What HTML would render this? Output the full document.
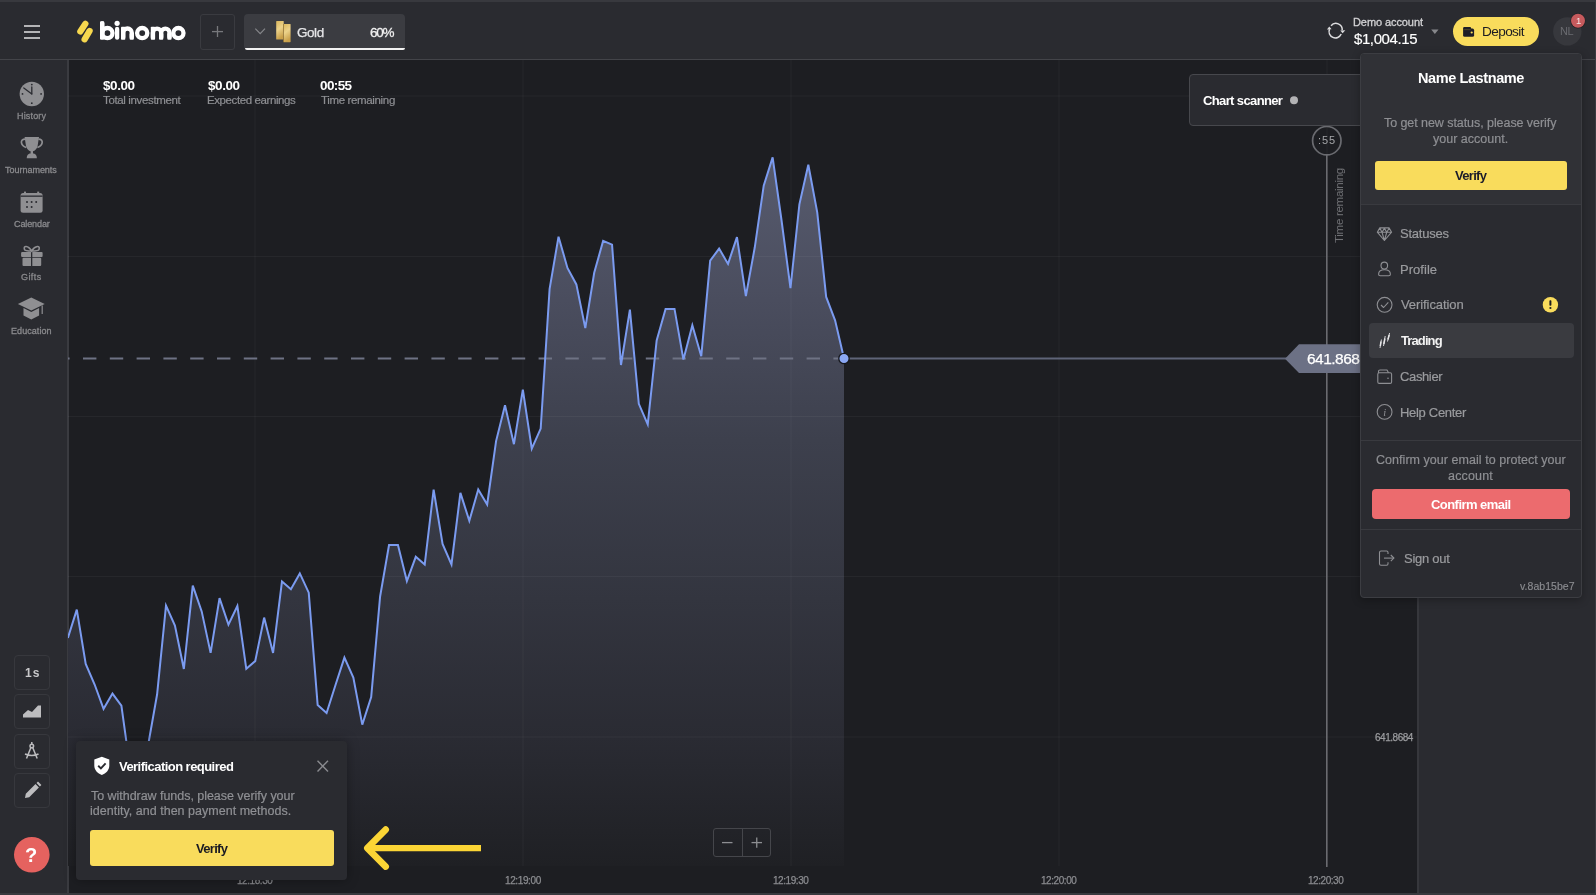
<!DOCTYPE html>
<html><head><meta charset="utf-8"><style>
html,body{margin:0;padding:0;}
body{width:1596px;height:895px;overflow:hidden;position:relative;background:#1d1e22;font-family:"Liberation Sans",sans-serif;}
.t{position:absolute;line-height:1;white-space:nowrap;will-change:transform;}
.r{position:absolute;}
.abs{position:absolute;overflow:visible;}
</style></head><body>
<div class="r" style="left:0.00px;top:0.00px;width:1596.00px;height:895.00px;background:#1d1e22;"></div>
<div class="r" style="left:0.00px;top:0.00px;width:1596.00px;height:59.00px;background:#2a2b30;"></div>
<div class="r" style="left:0.00px;top:0.00px;width:1596.00px;height:2.00px;background:#38393e;"></div>
<div class="r" style="left:0.00px;top:59.00px;width:1596.00px;height:1.00px;background:#434449;"></div>
<div class="r" style="left:0.00px;top:60.00px;width:67.00px;height:835.00px;background:#2a2b30;"></div>
<div class="r" style="left:67.00px;top:60.00px;width:2.00px;height:835.00px;background:#3a3b40;"></div>
<div class="r" style="left:1418.00px;top:60.00px;width:178.00px;height:835.00px;background:#2a2b30;"></div>
<div class="r" style="left:1417.00px;top:60.00px;width:2.00px;height:835.00px;background:#36373c;"></div>
<div class="r" style="left:1595.00px;top:0.00px;width:1.00px;height:895.00px;background:#3a3b40;"></div>
<div class="r" style="left:0.00px;top:893.00px;width:1596.00px;height:2.00px;background:#38393e;"></div>
<svg class="abs" style="left:0;top:0" width="1596" height="895" viewBox="0 0 1596 895">
<defs>
<linearGradient id="fg" x1="0" y1="150" x2="0" y2="866" gradientUnits="userSpaceOnUse">
<stop offset="0" stop-color="#585c6f"/>
<stop offset="0.21" stop-color="#4a4d5e"/>
<stop offset="0.405" stop-color="#3d404d"/>
<stop offset="0.628" stop-color="#33353f"/>
<stop offset="0.82" stop-color="#2a2b33"/>
<stop offset="1" stop-color="#1f2024"/>
</linearGradient>
<clipPath id="cc"><rect x="68" y="60" width="1349" height="833"/></clipPath>
</defs>
<g clip-path="url(#cc)">
<path d="M67.87,638.00 L76.79,609.60 L85.72,664.00 L94.64,684.50 L103.56,708.80 L112.48,693.60 L121.40,705.60 L130.32,770.00 L139.24,765.00 L148.16,745.00 L157.08,694.50 L166.00,605.70 L174.93,625.60 L183.85,669.00 L192.77,585.60 L201.69,611.40 L210.61,652.90 L219.53,598.10 L228.45,624.60 L237.37,606.00 L246.29,668.80 L255.21,661.10 L264.13,617.60 L273.06,652.90 L281.98,581.40 L290.90,589.30 L299.82,573.40 L308.74,592.70 L317.66,705.00 L326.58,713.00 L335.50,685.00 L344.42,657.60 L353.35,677.50 L362.27,724.60 L371.19,697.00 L380.11,596.50 L389.03,545.00 L397.95,545.00 L406.87,581.00 L415.79,556.80 L424.71,564.60 L433.63,489.60 L442.56,544.00 L451.48,564.40 L460.40,492.90 L469.32,520.80 L478.24,489.60 L487.16,504.50 L496.08,441.10 L505.00,405.30 L513.92,444.20 L522.84,389.60 L531.77,448.70 L540.69,428.60 L549.61,288.80 L558.53,236.70 L567.45,267.90 L576.37,284.40 L585.29,328.10 L594.21,272.80 L603.13,240.90 L612.05,244.60 L620.98,365.00 L629.90,309.70 L638.82,403.80 L647.74,424.40 L656.66,340.40 L665.58,308.90 L674.50,308.90 L683.42,359.60 L692.34,325.20 L701.26,356.20 L710.18,260.70 L719.11,248.60 L728.03,263.90 L736.95,237.10 L745.87,296.10 L754.79,247.30 L763.71,185.60 L772.63,157.40 L781.55,220.50 L790.47,288.10 L799.39,204.40 L808.32,164.70 L817.24,212.40 L826.16,296.90 L835.08,320.30 L844.00,358.60 L844,866 L67.87,866 Z" fill="url(#fg)"/>
<line x1="68" y1="96.0" x2="1417" y2="96.0" stroke="rgba(255,255,255,0.045)" stroke-width="1"/><line x1="68" y1="256.5" x2="1417" y2="256.5" stroke="rgba(255,255,255,0.045)" stroke-width="1"/><line x1="68" y1="416.5" x2="1417" y2="416.5" stroke="rgba(255,255,255,0.045)" stroke-width="1"/><line x1="68" y1="576.5" x2="1417" y2="576.5" stroke="rgba(255,255,255,0.045)" stroke-width="1"/><line x1="68" y1="737.0" x2="1417" y2="737.0" stroke="rgba(255,255,255,0.045)" stroke-width="1"/><line x1="255.0" y1="60" x2="255.0" y2="866" stroke="rgba(255,255,255,0.045)" stroke-width="1"/><line x1="523.0" y1="60" x2="523.0" y2="866" stroke="rgba(255,255,255,0.045)" stroke-width="1"/><line x1="791.0" y1="60" x2="791.0" y2="866" stroke="rgba(255,255,255,0.045)" stroke-width="1"/><line x1="1059.0" y1="60" x2="1059.0" y2="866" stroke="rgba(255,255,255,0.045)" stroke-width="1"/><line x1="1327.0" y1="60" x2="1327.0" y2="866" stroke="rgba(255,255,255,0.045)" stroke-width="1"/>
<line x1="56.2" y1="358.5" x2="844" y2="358.5" stroke="#6e7284" stroke-width="2" stroke-dasharray="13.4 13.4"/>
<line x1="844" y1="358.5" x2="1290" y2="358.5" stroke="#5f6478" stroke-width="2"/>
<path d="M67.87,638.00 L76.79,609.60 L85.72,664.00 L94.64,684.50 L103.56,708.80 L112.48,693.60 L121.40,705.60 L130.32,770.00 L139.24,765.00 L148.16,745.00 L157.08,694.50 L166.00,605.70 L174.93,625.60 L183.85,669.00 L192.77,585.60 L201.69,611.40 L210.61,652.90 L219.53,598.10 L228.45,624.60 L237.37,606.00 L246.29,668.80 L255.21,661.10 L264.13,617.60 L273.06,652.90 L281.98,581.40 L290.90,589.30 L299.82,573.40 L308.74,592.70 L317.66,705.00 L326.58,713.00 L335.50,685.00 L344.42,657.60 L353.35,677.50 L362.27,724.60 L371.19,697.00 L380.11,596.50 L389.03,545.00 L397.95,545.00 L406.87,581.00 L415.79,556.80 L424.71,564.60 L433.63,489.60 L442.56,544.00 L451.48,564.40 L460.40,492.90 L469.32,520.80 L478.24,489.60 L487.16,504.50 L496.08,441.10 L505.00,405.30 L513.92,444.20 L522.84,389.60 L531.77,448.70 L540.69,428.60 L549.61,288.80 L558.53,236.70 L567.45,267.90 L576.37,284.40 L585.29,328.10 L594.21,272.80 L603.13,240.90 L612.05,244.60 L620.98,365.00 L629.90,309.70 L638.82,403.80 L647.74,424.40 L656.66,340.40 L665.58,308.90 L674.50,308.90 L683.42,359.60 L692.34,325.20 L701.26,356.20 L710.18,260.70 L719.11,248.60 L728.03,263.90 L736.95,237.10 L745.87,296.10 L754.79,247.30 L763.71,185.60 L772.63,157.40 L781.55,220.50 L790.47,288.10 L799.39,204.40 L808.32,164.70 L817.24,212.40 L826.16,296.90 L835.08,320.30 L844.00,358.60" fill="none" stroke="#7b9bf0" stroke-width="2" stroke-linejoin="miter"/>
<circle cx="844" cy="358.5" r="5.2" fill="#8aa7f3" stroke="#15161a" stroke-width="1.3"/>
<line x1="1326.8" y1="155" x2="1326.8" y2="867" stroke="#6a6b70" stroke-width="1.6"/>
<circle cx="1326.8" cy="140.7" r="14.2" fill="none" stroke="#6a6b70" stroke-width="1.7"/>
<path d="M1285,358.7 L1299,344.2 L1362,344.2 L1362,373 L1299,373 Z" fill="#6c7185"/>
</g>
</svg>
<div class="r" style="left:24.00px;top:24.60px;width:16.00px;height:2.00px;background:#b4b4b6;"></div>
<div class="r" style="left:24.00px;top:30.80px;width:16.00px;height:2.00px;background:#b4b4b6;"></div>
<div class="r" style="left:24.00px;top:37.00px;width:16.00px;height:2.00px;background:#b4b4b6;"></div>
<svg class="abs" style="left:0;top:0" width="200" height="60" viewBox="0 0 200 60">
<g stroke="#f7d84e" stroke-width="6.2" stroke-linecap="round"><line x1="85.4" y1="23.8" x2="80.3" y2="31.4"/><line x1="89.6" y1="30.9" x2="84.6" y2="39.3"/></g>
<g stroke="#fff" stroke-width="4.3" stroke-linecap="round" fill="none">
<line x1="102.2" y1="23.5" x2="102.2" y2="33"/>
<circle cx="107.4" cy="33.1" r="5.1"/>
<circle cx="117.1" cy="23.3" r="2.6" fill="#fff" stroke="none"/>
<line x1="117.1" y1="28.9" x2="117.1" y2="37.7"/>
<path d="M123.2,37.7 V32.8 A4.3,4.3 0 0 1 131.8,32.8 V37.7" stroke-linecap="butt"/>
<circle cx="142.2" cy="33.1" r="5.1"/>
<path d="M152.9,37.7 V32.8 A4.15,4.15 0 0 1 161.2,32.8 V37.7 M161.2,32.8 A4.15,4.15 0 0 1 169.5,32.8 V37.7" stroke-linecap="butt"/>
<circle cx="178.4" cy="33.1" r="5.1"/>
</g>
<g fill="#fff"><rect x="121" y="26.7" width="4.3" height="13.1" rx="0.8"/><rect x="129.6" y="33" width="4.3" height="6.8" rx="1"/><rect x="150.8" y="26.7" width="4.3" height="13.1" rx="0.8"/><rect x="159" y="33" width="4.3" height="6.8" rx="1"/><rect x="167.3" y="33" width="4.3" height="6.8" rx="1"/><rect x="100" y="21.3" width="4.3" height="18.5" rx="1.2"/></g>
</svg>
<div class="r" style="left:200.00px;top:14.00px;width:35.00px;height:35.50px;background:transparent;border:1px solid #3a3b40;border-radius:3px;box-sizing:border-box;"></div>
<svg class="abs" style="left:200px;top:14px" width="35" height="35"><g stroke="#77787c" stroke-width="1.3"><line x1="12" y1="17.6" x2="23" y2="17.6"/><line x1="17.5" y1="12" x2="17.5" y2="23"/></g></svg>
<div class="r" style="left:244.00px;top:14.00px;width:161.30px;height:35.70px;background:#3b3c41;border-radius:4px;"></div>
<div class="r" style="left:245.00px;top:47.60px;width:159.50px;height:2.40px;background:#f2f2f2;border-radius:0 0 3px 3px;"></div>
<svg class="abs" style="left:244px;top:14px" width="60" height="36">
<polyline points="11.3,14.7 16.2,19.7 21,14.7" fill="none" stroke="#85868a" stroke-width="1.2"/>
<defs><linearGradient id="gb" x1="0" y1="0" x2="0.3" y2="1"><stop offset="0" stop-color="#d9b65c"/><stop offset="0.5" stop-color="#ecd28a"/><stop offset="1" stop-color="#c9a04a"/></linearGradient></defs>
<rect x="32.2" y="6.9" width="7.5" height="18.6" fill="url(#gb)" rx="0.6"/>
<rect x="39.3" y="10" width="7.3" height="18.2" fill="url(#gb)" rx="0.6"/>
<rect x="39.1" y="10" width="0.8" height="18.2" fill="#7a5a22" opacity="0.7"/>
</svg>
<div class="t" style="left:297.32px;top:25.87px;font-size:13.50px;letter-spacing:-0.456px;color:#e6e6e8;-webkit-text-stroke:0.25px #e6e6e8;">Gold</div>
<div class="t" style="left:369.51px;top:25.87px;font-size:13.50px;letter-spacing:-1.227px;color:#f0f0f0;-webkit-text-stroke:0.30px #f0f0f0;">60%</div>
<svg class="abs" style="left:1320px;top:12px" width="30" height="30">
<g fill="none" stroke="#dcdcde" stroke-width="1.5">
<path d="M11.05,13.76 A6.3,6.3 0 0 1 22.2,18.3"/>
<path d="M21.19,22.02 A6.3,6.3 0 0 1 9.5,17.1"/>
</g>
<path d="M20.3,18.5 L25.3,18.2 L22.6,21.3 Z" fill="#dcdcde"/>
<path d="M6.9,17.5 L11.6,17.2 L9.3,14.6 Z" fill="#dcdcde"/>
</svg>
<div class="t" style="left:1352.90px;top:17.19px;font-size:11.00px;letter-spacing:-0.086px;color:#d2d2d4;-webkit-text-stroke:0.30px #d2d2d4;">Demo account</div>
<div class="t" style="left:1353.84px;top:30.70px;font-size:15.00px;letter-spacing:-0.405px;color:#ffffff;-webkit-text-stroke:0.15px #ffffff;">$1,004.15</div>
<svg class="abs" style="left:1430px;top:28px" width="10" height="8"><path d="M1.2,1.5 L8.5,1.5 L4.85,6 Z" fill="#86878b"/></svg>
<div class="r" style="left:1453.00px;top:17.20px;width:86.00px;height:28.70px;background:#f9dc5c;border-radius:15px;"></div>
<svg class="abs" style="left:1460px;top:24px" width="18" height="16">
<rect x="3.1" y="3.1" width="8" height="3" rx="1.1" fill="#1e1e26"/>
<rect x="3.1" y="4.6" width="11" height="8.2" rx="1.6" fill="#1e1e26"/>
<rect x="4.2" y="5.5" width="6.5" height="0.6" fill="#6b5e2a"/>
<circle cx="11.7" cy="8.5" r="1.1" fill="#f9dc5c"/>
</svg>
<div class="t" style="left:1481.88px;top:24.99px;font-size:13.60px;letter-spacing:-0.600px;color:#1c1c22;">Deposit</div>
<svg class="abs" style="left:1553px;top:17px" width="30" height="30"><circle cx="14.3" cy="14.4" r="14.2" fill="#37383d"/></svg>
<div class="t" style="left:1560.10px;top:25.69px;font-size:11.00px;letter-spacing:-0.394px;color:#6a6b70;">NL</div>
<svg class="abs" style="left:1568px;top:12px" width="20" height="18"><circle cx="10" cy="8.8" r="7.6" fill="#1f2024"/><circle cx="10" cy="8.8" r="7" fill="#c65a5d"/></svg>
<div class="t" style="left:1575.58px;top:16.46px;font-size:9.50px;letter-spacing:0.000px;color:#f4e6e6;">1</div>
<div class="t" style="left:103.02px;top:78.77px;font-size:13.50px;letter-spacing:-0.413px;color:#fff;font-weight:700;">$0.00</div>
<div class="t" style="left:102.94px;top:94.77px;font-size:11.50px;letter-spacing:-0.355px;color:#8e8f93;-webkit-text-stroke:0.20px #8e8f93;">Total investment</div>
<div class="t" style="left:208.12px;top:78.77px;font-size:13.50px;letter-spacing:-0.413px;color:#fff;font-weight:700;">$0.00</div>
<div class="t" style="left:207.36px;top:94.77px;font-size:11.50px;letter-spacing:-0.406px;color:#8e8f93;-webkit-text-stroke:0.20px #8e8f93;">Expected earnings</div>
<div class="t" style="left:320.27px;top:78.77px;font-size:13.50px;letter-spacing:-0.605px;color:#fff;font-weight:700;">00:55</div>
<div class="t" style="left:321.04px;top:94.77px;font-size:11.50px;letter-spacing:-0.350px;color:#8e8f93;-webkit-text-stroke:0.20px #8e8f93;">Time remaining</div>
<svg class="abs" style="left:0;top:60px" width="68" height="290">
<circle cx="31.8" cy="34" r="12.2" fill="#8f8f92"/>
<g fill="#2a2b30"><circle cx="31.8" cy="24.6" r="0.9"/><circle cx="31.8" cy="43.2" r="0.9"/><circle cx="22.5" cy="33.9" r="0.9"/><circle cx="41.1" cy="33.9" r="0.9"/></g>
<g stroke="#2a2b30" stroke-width="1.3" stroke-linecap="round"><line x1="31.8" y1="33.9" x2="31.8" y2="27"/><line x1="31.8" y1="33.9" x2="23.8" y2="28"/></g>
<path d="M24.6,77 H39 L37.6,86 C37,89 34.8,90.8 33,91.2 V93.5 H30.6 V91.2 C28.8,90.8 26.6,89 26,86 Z M26.7,98.2 C26.7,95 28.5,93.2 31.8,93.2 C35.1,93.2 36.9,95 36.9,98.2 Z" fill="#8f8f92"/>
<path d="M25.2,79.2 C19.5,79.2 20.5,85.5 26.2,87.5 M38.4,79.2 C44.1,79.2 43.1,85.5 37.4,87.5" fill="none" stroke="#8f8f92" stroke-width="1.7"/>
<rect x="20.6" y="133" width="22" height="19.7" rx="2.5" fill="#8f8f92"/>
<rect x="24" y="131.6" width="2" height="3" fill="#8f8f92"/><rect x="37.2" y="131.6" width="2" height="3" fill="#8f8f92"/>
<rect x="20.6" y="135.5" width="22" height="1.3" fill="#2a2b30"/>
<g fill="#2a2b30"><circle cx="27" cy="142" r="1"/><circle cx="31.6" cy="142" r="1"/><circle cx="36.2" cy="142" r="1"/><circle cx="27" cy="147" r="1"/><circle cx="31.6" cy="147" r="1"/></g>
<rect x="21.1" y="192" width="21.5" height="5" rx="1" fill="#8f8f92"/>
<rect x="22.5" y="197.8" width="18.7" height="8.1" rx="1" fill="#8f8f92"/>
<rect x="31" y="191" width="1.3" height="15" fill="#2a2b30"/>
<path d="M31.6,191 C28,185 23,185.5 24.5,189.5 C25,191 28,191 31.6,191 C35,191 38.5,191 39,189.5 C40.5,185.5 35.5,185 31.6,191 Z" fill="none" stroke="#8f8f92" stroke-width="1.6"/>
<path d="M17.9,244 L31.3,237.4 L44.7,244 L31.3,250.6 Z" fill="#8f8f92"/>
<path d="M23.5,248 V255.5 L31.3,259.6 L39.1,255.5 V248 L31.3,252 Z" fill="#8f8f92"/>
<line x1="42.2" y1="245.5" x2="42.2" y2="254" stroke="#8f8f92" stroke-width="1.2"/>
</svg>
<div class="t" style="left:16.96px;top:112.28px;font-size:9.00px;letter-spacing:0.159px;color:#8a8a8d;-webkit-text-stroke:0.30px #8a8a8d;">History</div>
<div class="t" style="left:5.40px;top:166.38px;font-size:9.00px;letter-spacing:-0.020px;color:#8a8a8d;-webkit-text-stroke:0.30px #8a8a8d;">Tournaments</div>
<div class="t" style="left:13.54px;top:219.78px;font-size:9.00px;letter-spacing:-0.102px;color:#8a8a8d;-webkit-text-stroke:0.30px #8a8a8d;">Calendar</div>
<div class="t" style="left:21.35px;top:273.08px;font-size:9.00px;letter-spacing:0.419px;color:#8a8a8d;-webkit-text-stroke:0.30px #8a8a8d;">Gifts</div>
<div class="t" style="left:11.46px;top:326.78px;font-size:9.00px;letter-spacing:0.062px;color:#8a8a8d;-webkit-text-stroke:0.30px #8a8a8d;">Education</div>
<div class="r" style="left:14.00px;top:654.80px;width:35.60px;height:35.00px;background:transparent;border:1px solid #37383d;border-radius:4px;box-sizing:border-box;"></div>
<div class="r" style="left:14.00px;top:694.20px;width:35.60px;height:35.00px;background:transparent;border:1px solid #37383d;border-radius:4px;box-sizing:border-box;"></div>
<div class="r" style="left:14.00px;top:733.60px;width:35.60px;height:35.00px;background:transparent;border:1px solid #37383d;border-radius:4px;box-sizing:border-box;"></div>
<div class="r" style="left:14.00px;top:773.30px;width:35.60px;height:35.00px;background:transparent;border:1px solid #37383d;border-radius:4px;box-sizing:border-box;"></div>
<div class="t" style="left:24.54px;top:666.64px;font-size:12.00px;letter-spacing:1.000px;color:#c8c8ca;font-weight:700;">1s</div>
<svg class="abs" style="left:14px;top:694px" width="36" height="36">
<path d="M9,23.5 L9,20.5 L14,16 L18,18 L24,11.5 L27,11.5 L27,23.5 Z" fill="#bdbdbf"/>
</svg>
<svg class="abs" style="left:14px;top:733.6px" width="36" height="36">
<g fill="none" stroke="#bdbdbf" stroke-width="1.5"><circle cx="17.8" cy="12" r="1.8"/><line x1="16.8" y1="13.8" x2="12.5" y2="24.5"/><line x1="18.8" y1="13.8" x2="23.2" y2="24.5"/><path d="M11,20 Q17.8,23 24.5,20"/><line x1="17.8" y1="8" x2="17.8" y2="10"/></g>
</svg>
<svg class="abs" style="left:14px;top:773.3px" width="36" height="36">
<path d="M11,25 L11.8,20.8 L21.5,11.1 L24.9,14.5 L15.2,24.2 Z M22.5,10.1 L24,8.6 L27.4,12 L25.9,13.5 Z" fill="#bdbdbf"/>
</svg>
<svg class="abs" style="left:13px;top:836px" width="38" height="38"><circle cx="18.8" cy="18.8" r="17.8" fill="#e5625f"/></svg>
<div class="t" style="left:25.28px;top:845.07px;font-size:20.00px;letter-spacing:0.000px;color:#fff;font-weight:700;">?</div>
<div class="t" style="left:504.84px;top:875.64px;font-size:10.00px;letter-spacing:-0.382px;color:#8b8c90;-webkit-text-stroke:0.25px #8b8c90;">12:19:00</div>
<div class="t" style="left:772.94px;top:875.64px;font-size:10.00px;letter-spacing:-0.439px;color:#8b8c90;-webkit-text-stroke:0.25px #8b8c90;">12:19:30</div>
<div class="t" style="left:1040.74px;top:875.64px;font-size:10.00px;letter-spacing:-0.439px;color:#8b8c90;-webkit-text-stroke:0.25px #8b8c90;">12:20:00</div>
<div class="t" style="left:1308.44px;top:875.64px;font-size:10.00px;letter-spacing:-0.453px;color:#8b8c90;-webkit-text-stroke:0.25px #8b8c90;">12:20:30</div>
<div class="t" style="left:237.24px;top:875.64px;font-size:10.00px;letter-spacing:-0.439px;color:#8b8c90;-webkit-text-stroke:0.25px #8b8c90;">12:18:30</div>
<div class="t" style="left:1374.59px;top:732.54px;font-size:10.00px;letter-spacing:-0.473px;color:#9b9c9f;-webkit-text-stroke:0.25px #9b9c9f;">641.8684</div>
<div class="t" style="left:1307.11px;top:350.88px;font-size:15.50px;letter-spacing:-0.528px;color:#fff;-webkit-text-stroke:0.25px #fff;">641.868</div>
<div class="t" style="left:1318.00px;top:135.39px;font-size:11.00px;letter-spacing:0.887px;color:#a5a6a9;">:55</div>
<div class="t" style="left:1334.18px;top:242.66px;font-size:11.50px;letter-spacing:-0.281px;color:#707175;transform:rotate(-90deg);transform-origin:0 0;">Time remaining</div>
<div class="r" style="left:1189.00px;top:74.30px;width:231.00px;height:51.70px;background:#2a2b30;border:1.3px solid #47484d;border-radius:4px;box-sizing:border-box;"></div>
<div class="t" style="left:1203.27px;top:94.00px;font-size:13.00px;letter-spacing:-0.624px;color:#fff;font-weight:700;">Chart scanner</div>
<svg class="abs" style="left:1288px;top:94px" width="12" height="12"><circle cx="6" cy="6.3" r="4" fill="#b3b3b5"/></svg>
<div class="r" style="left:712.60px;top:828.00px;width:58.40px;height:29.20px;background:transparent;border:1px solid #45464b;border-radius:3px;box-sizing:border-box;"></div>
<div class="r" style="left:741.50px;top:828.00px;width:1.10px;height:29.20px;background:#45464b;"></div>
<svg class="abs" style="left:712px;top:828px" width="60" height="30"><g stroke="#8d8e92" stroke-width="1.3"><line x1="10" y1="14.6" x2="20.5" y2="14.6"/><line x1="39.5" y1="14.6" x2="50" y2="14.6"/><line x1="44.75" y1="9.4" x2="44.75" y2="19.8"/></g></svg>
<svg class="abs" style="left:355px;top:820px" width="140" height="60"><g fill="none" stroke="#fbd535" stroke-width="6.6" stroke-linejoin="round"><line x1="14" y1="28.1" x2="126" y2="28.1" stroke-width="6.4"/><polyline points="30.7,9.6 12.3,28.1 30.7,46.6" stroke-linecap="round"/></g></svg>
<div class="r" style="left:76.40px;top:741.00px;width:270.60px;height:139.00px;background:#2a2b30;border-radius:4px;box-shadow:0 0 12px rgba(0,0,0,0.35);"></div>
<svg class="abs" style="left:90px;top:754px" width="24" height="24">
<path d="M11.8,2.7 L19.3,5.6 V11.5 C19.3,16 16,19.6 11.8,21 C7.6,19.6 4.3,16 4.3,11.5 V5.6 Z" fill="#fff"/>
<polyline points="8.2,11.8 10.9,14.4 15.6,9.3" fill="none" stroke="#2a2b30" stroke-width="1.9"/>
</svg>
<div class="t" style="left:119.21px;top:759.60px;font-size:13.00px;letter-spacing:-0.544px;color:#fff;font-weight:700;">Verification required</div>
<svg class="abs" style="left:312px;top:755px" width="22" height="22"><g stroke="#8a8b8f" stroke-width="1.4"><line x1="5.5" y1="5.8" x2="16" y2="16.5"/><line x1="16" y1="5.8" x2="5.5" y2="16.5"/></g></svg>
<div class="t" style="left:90.62px;top:789.62px;font-size:12.50px;letter-spacing:-0.038px;color:#8f9094;-webkit-text-stroke:0.20px #8f9094;">To withdraw funds, please verify your</div>
<div class="t" style="left:90.06px;top:805.32px;font-size:12.50px;letter-spacing:0.017px;color:#8f9094;-webkit-text-stroke:0.20px #8f9094;">identity, and then payment methods.</div>
<div class="r" style="left:90.30px;top:829.80px;width:243.60px;height:36.20px;background:#f9dc5c;border-radius:3px;"></div>
<div class="t" style="left:195.91px;top:841.60px;font-size:13.00px;letter-spacing:-0.694px;color:#1b1b22;font-weight:700;">Verify</div>
<div class="r" style="left:1360.40px;top:52.70px;width:221.30px;height:545.60px;background:#2a2b30;border:1px solid #3c3d42;border-radius:4px;box-sizing:border-box;box-shadow:0 2px 8px rgba(0,0,0,0.3);"></div>
<div class="r" style="left:1361.40px;top:53.70px;width:219.30px;height:150.10px;background:#303136;border-radius:3px 3px 0 0;"></div>
<div class="t" style="left:1417.53px;top:71.33px;font-size:14.50px;letter-spacing:-0.404px;color:#fff;font-weight:700;">Name Lastname</div>
<div class="t" style="left:1384.22px;top:116.62px;font-size:12.50px;letter-spacing:-0.064px;color:#8e8f93;-webkit-text-stroke:0.20px #8e8f93;">To get new status, please verify</div>
<div class="t" style="left:1433.47px;top:132.72px;font-size:12.50px;letter-spacing:0.011px;color:#8e8f93;-webkit-text-stroke:0.20px #8e8f93;">your account.</div>
<div class="r" style="left:1375.20px;top:160.90px;width:191.70px;height:28.90px;background:#f9dc5c;border-radius:3px;"></div>
<div class="t" style="left:1454.71px;top:169.20px;font-size:13.00px;letter-spacing:-0.694px;color:#1b1b2a;font-weight:700;">Verify</div>
<div class="r" style="left:1361.40px;top:203.80px;width:219.30px;height:1.00px;background:#393a3f;"></div>
<div class="t" style="left:1400.11px;top:227.40px;font-size:13.00px;letter-spacing:-0.218px;color:#9a9b9e;-webkit-text-stroke:0.20px #9a9b9e;">Statuses</div>
<div class="t" style="left:1399.63px;top:262.60px;font-size:13.00px;letter-spacing:0.033px;color:#9a9b9e;-webkit-text-stroke:0.20px #9a9b9e;">Profile</div>
<div class="t" style="left:1400.64px;top:298.40px;font-size:13.00px;letter-spacing:-0.082px;color:#9a9b9e;-webkit-text-stroke:0.20px #9a9b9e;">Verification</div>
<div class="r" style="left:1368.60px;top:322.70px;width:205.10px;height:35.20px;background:#3a3b40;border-radius:4px;"></div>
<div class="t" style="left:1400.55px;top:334.30px;font-size:13.00px;letter-spacing:-0.891px;color:#f2f2f2;font-weight:700;">Trading</div>
<div class="t" style="left:1400.04px;top:369.80px;font-size:13.00px;letter-spacing:-0.370px;color:#9a9b9e;-webkit-text-stroke:0.20px #9a9b9e;">Cashier</div>
<div class="t" style="left:1399.63px;top:406.00px;font-size:13.00px;letter-spacing:-0.308px;color:#9a9b9e;-webkit-text-stroke:0.20px #9a9b9e;">Help Center</div>
<svg class="abs" style="left:1370px;top:220px" width="30" height="210">
<g fill="none" stroke="#8e8f93" stroke-width="1.1" stroke-linejoin="round">
<path d="M9.8,7.9 L19.2,7.9 L21.6,12.2 L14.4,20.5 L7.3,12.2 Z M7.3,12.2 H21.6 M12,12.2 L14.4,8.4 L16.8,12.2 M12,12.2 L14.4,20.5 L16.8,12.2 M9.8,7.9 L12,12.2 M19.2,7.9 L16.8,12.2"/>
<ellipse cx="14.3" cy="45.6" rx="3.3" ry="3.5"/>
<path d="M8.6,54.2 C8.6,50.6 11,49.8 14.5,49.8 C18,49.8 20.4,50.6 20.4,54.2 C20.4,55.2 19.8,55.7 18.8,55.7 H10.2 C9.2,55.7 8.6,55.2 8.6,54.2 Z"/>
<circle cx="14.6" cy="84.8" r="7.4"/>
<polyline points="11,85 13.6,87.5 18.3,82.3"/>
<rect x="7.8" y="152.8" width="13.8" height="10.6" rx="1.5"/>
<path d="M8.5,153 L8.5,151.3 C8.5,150.4 9.2,150 10,150 H17 L18.5,152.8"/>
<circle cx="14.6" cy="191.9" r="7.4"/>
</g>
<circle cx="18" cy="158.2" r="0.8" fill="#8e8f93"/>
<text x="14.6" y="195.8" font-family="Liberation Serif" font-style="italic" font-size="10.5" fill="#8e8f93" text-anchor="middle">i</text>
<g stroke="#e8e8ea" stroke-width="0.9"><line x1="10" y1="128" x2="11.4" y2="119.5"/><line x1="13.5" y1="126" x2="15.2" y2="116"/><line x1="17.5" y1="121.5" x2="19.6" y2="113"/></g>
<g stroke="#e8e8ea" stroke-width="1.5"><line x1="10.3" y1="126" x2="11" y2="121.5"/><line x1="13.8" y1="124" x2="14.9" y2="118.5"/><line x1="17.9" y1="119.5" x2="19.2" y2="115"/></g>
</svg>
<svg class="abs" style="left:1540px;top:295px" width="20" height="20"><circle cx="10.4" cy="9.7" r="7.7" fill="#f9dc5c"/><rect x="9.4" y="5.2" width="2" height="5.6" rx="0.8" fill="#1d1d20"/><circle cx="10.4" cy="13" r="1.1" fill="#1d1d20"/></svg>
<div class="r" style="left:1361.40px;top:439.70px;width:219.30px;height:1.00px;background:#393a3f;"></div>
<div class="t" style="left:1375.97px;top:454.42px;font-size:12.50px;letter-spacing:0.042px;color:#8e8f93;-webkit-text-stroke:0.20px #8e8f93;">Confirm your email to protect your</div>
<div class="t" style="left:1448.17px;top:470.42px;font-size:12.50px;letter-spacing:0.174px;color:#8e8f93;-webkit-text-stroke:0.20px #8e8f93;">account</div>
<div class="r" style="left:1371.70px;top:489.40px;width:198.60px;height:29.30px;background:#ec6b6e;border-radius:4px;"></div>
<div class="t" style="left:1431.17px;top:497.50px;font-size:13.00px;letter-spacing:-0.552px;color:#fff;font-weight:700;">Confirm email</div>
<div class="r" style="left:1361.40px;top:529.30px;width:219.30px;height:1.00px;background:#393a3f;"></div>
<svg class="abs" style="left:1375px;top:546px" width="24" height="24">
<g fill="none" stroke="#8e8f93" stroke-width="1.1"><path d="M13,8 V6.5 C13,5.7 12.4,5 11.6,5 H6 C5.2,5 4.5,5.7 4.5,6.5 V17.7 C4.5,18.5 5.2,19.2 6,19.2 H11.6 C12.4,19.2 13,18.5 13,17.7 V16.2"/><line x1="9" y1="12.1" x2="18.8" y2="12.1"/><polyline points="15.8,9 18.9,12.1 15.8,15.2"/></g>
</svg>
<div class="t" style="left:1403.61px;top:552.30px;font-size:13.00px;letter-spacing:-0.260px;color:#9a9b9e;-webkit-text-stroke:0.20px #9a9b9e;">Sign out</div>
<div class="t" style="left:1520.16px;top:580.71px;font-size:10.50px;letter-spacing:0.053px;color:#8b8c90;-webkit-text-stroke:0.15px #8b8c90;">v.8ab15be7</div>
</body></html>
